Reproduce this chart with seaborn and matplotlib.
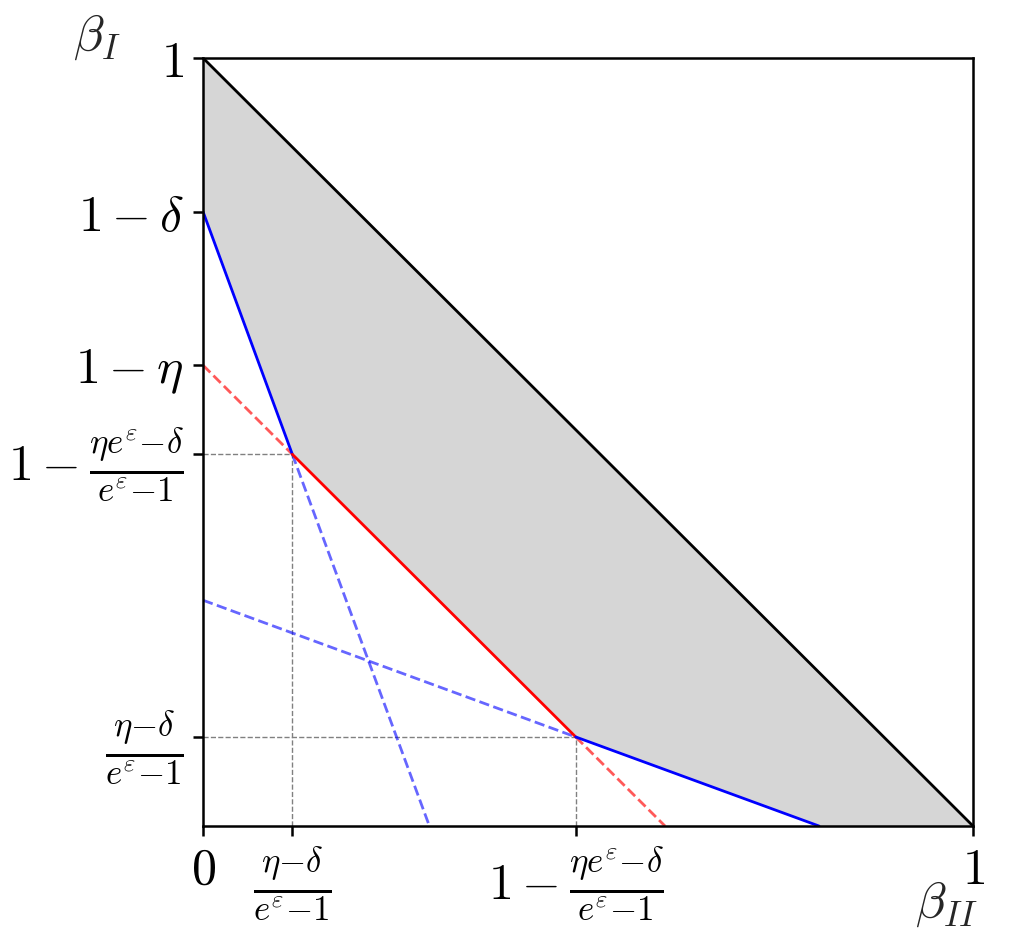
import matplotlib
matplotlib.use("Agg")
import matplotlib.pyplot as plt
import seaborn as sns

# vertices of the boundary (beta_II, beta_I)
lower_x = [0.0, 0.116, 0.484, 0.8, 1.0]
lower_y = [0.8, 0.484, 0.116, 0.0, 0.0]
upper_y = [1.0, 0.884, 0.516, 0.2, 0.0]

blue_solid_1 = ([0.0, 0.116], [0.8, 0.484])
red_solid = ([0.116, 0.484], [0.484, 0.116])
blue_solid_2 = ([0.484, 0.8], [0.116, 0.0])
red_dash_1 = ([0.0, 0.116], [0.6, 0.484])
red_dash_2 = ([0.484, 0.6], [0.116, 0.0])
blue_dash_1 = ([0.116, 0.294], [0.484, 0.0])
blue_dash_2 = ([0.0, 0.484], [0.294, 0.116])
diag = ([0.0, 1.0], [1.0, 0.0])

xtick_pos = [0.0, 0.116, 0.484, 1.0]
xtick_lab = [r"$0$", r"$\frac{\eta{-}\delta}{e^\varepsilon{-}1}$",
             r"$1-\frac{\eta e^\varepsilon{-}\delta}{e^\varepsilon{-}1}$", r"$1$"]
ytick_pos = [1.0, 0.8, 0.6, 0.484, 0.116]
ytick_lab = [r"$1$", r"$1-\delta$", r"$1-\eta$",
             r"$1-\frac{\eta e^\varepsilon{-}\delta}{e^\varepsilon{-}1}$",
             r"$\frac{\eta{-}\delta}{e^\varepsilon{-}1}$"]

sns.set_style("ticks")
plt.rcParams["mathtext.fontset"] = "cm"
plt.rcParams["font.family"] = ["DejaVu Serif"]

fig = plt.figure(figsize=(5.06, 4.66), dpi=200)
ax = fig.add_axes([0.2006, 0.1137, 0.7609, 0.8241])

ax.fill_between(lower_x, lower_y, upper_y, color="#d6d6d6", lw=0, zorder=1)

# guide lines to the corner points
ax.plot([0, 0.116], [0.484, 0.484], color="gray", ls="--", lw=0.5)
ax.plot([0.116, 0.116], [0, 0.484], color="gray", ls="--", lw=0.5)
ax.plot([0, 0.484], [0.116, 0.116], color="gray", ls="--", lw=0.5)
ax.plot([0.484, 0.484], [0, 0.116], color="gray", ls="--", lw=0.5)

for (xs, ys), c, ls, a in [
    (red_dash_1, "red", "--", 0.65), (red_dash_2, "red", "--", 0.65),
    (blue_dash_1, "blue", "--", 0.6), (blue_dash_2, "blue", "--", 0.6),
    (blue_solid_1, "blue", "-", 1), (red_solid, "red", "-", 1),
    (blue_solid_2, "blue", "-", 1), (diag, "black", "-", 1),
]:
    sns.lineplot(x=xs, y=ys, color=c, linestyle=ls, alpha=a, lw=1.0, ax=ax)

ax.set_xlim(0, 1)
ax.set_ylim(0, 1)
ax.set_xticks(xtick_pos, xtick_lab, fontsize=18)
ax.set_yticks(ytick_pos, ytick_lab, fontsize=18)
for s in ax.spines.values():
    s.set_color("black")
    s.set_linewidth(0.9)
ax.tick_params(colors="black", length=3.5, width=0.9)

ax.text(-0.138, 1.010, r"$\beta_I$", transform=ax.transAxes, fontsize=18,
        ha="center", va="baseline")
ax.text(0.965, -0.119, r"$\beta_{II}$", transform=ax.transAxes, fontsize=18,
        ha="center", va="baseline")

fig.savefig("out.png", dpi=200)
